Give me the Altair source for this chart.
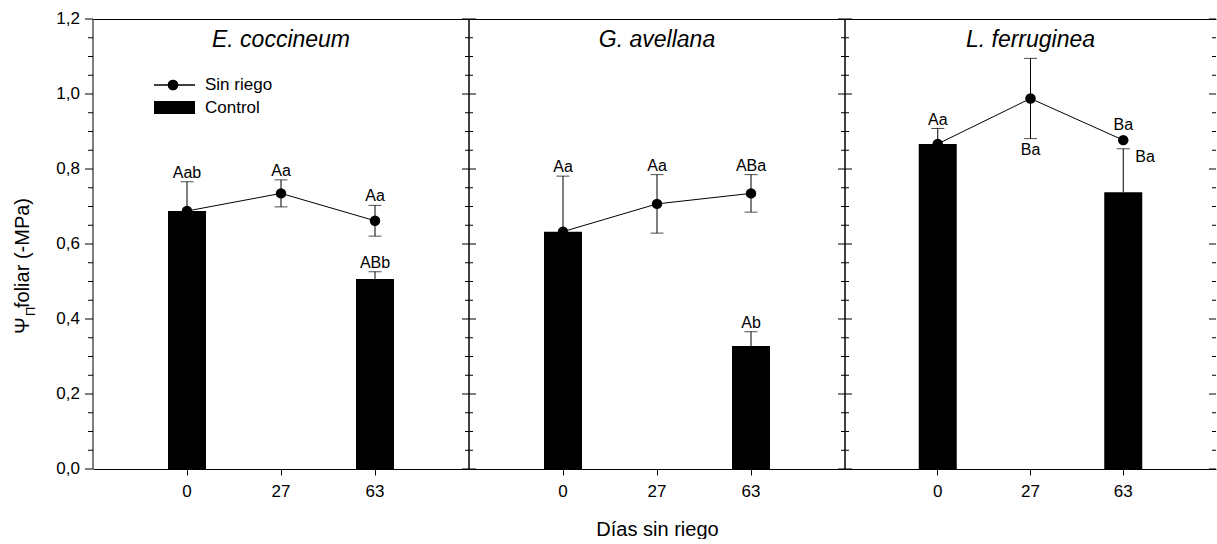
import altair as alt
import pandas as pd

# ---- data -------------------------------------------------------------
SPECIES = ["E. coccineum", "G. avellana", "L. ferruginea"]
DAYS = ["0", "27", "63"]
SERIES = ["Sin riego", "Control"]

# leaf osmotic potential (-MPa), one row per species, one entry per day
SIN_RIEGO_MEAN = [
    [0.688, 0.735, 0.662],
    [0.633, 0.707, 0.735],
    [0.867, 0.988, 0.877],
]
SIN_RIEGO_SE = [
    [None, 0.036, 0.041],
    [None, 0.078, 0.050],
    [None, 0.107, None],
]
CONTROL_MEAN = [
    [0.688, None, 0.507],
    [0.633, None, 0.328],
    [0.867, None, 0.738],
]
CONTROL_SE = [
    [0.078, None, 0.019],
    [0.148, None, 0.038],
    [0.041, None, 0.116],
]
SIN_RIEGO_LETTERS = [
    [None, "Aa", "Aa"],
    [None, "Aa", "ABa"],
    [None, "Ba", "Ba"],
]
CONTROL_LETTERS = [
    ["Aab", None, "ABb"],
    ["Aa", None, "Ab"],
    ["Aa", None, "Ba"],
]

X_TITLE = "Días sin riego"
Y_TITLE = ["Ψ", "Π", "foliar (-MPa)"]

# y tick marks: labelled every 0.2, small ticks every 0.05
Y_MAJOR = [0.0, 0.2, 0.4, 0.6, 0.8, 1.0, 1.2]
Y_LABELS = ["0,0", "0,2", "0,4", "0,6", "0,8", "1,0", "1,2"]
Y_MINOR = [0.05, 0.1, 0.15, 0.25, 0.3, 0.35, 0.45, 0.5, 0.55, 0.65, 0.7, 0.75,
           0.85, 0.9, 0.95, 1.05, 1.1, 1.15]

# letters that do not sit above their error bar
LETTER_SIDE = {(2, "27", "sin"): "abajo", (2, "63", "ctl"): "derecha"}

# ---- layout -----------------------------------------------------------
FONT = "Liberation Sans"
WIDTHS = [376, 376, 371]
HEIGHT = 450


def tables(i):
    bars, err, caps, sr, lab = [], [], [], [], []
    for j, d in enumerate(DAYS):
        cm, cs = CONTROL_MEAN[i][j], CONTROL_SE[i][j]
        sm, ss = SIN_RIEGO_MEAN[i][j], SIN_RIEGO_SE[i][j]
        if cm is not None:
            bars.append({"dia": d, "v": cm})
            if cs is not None:
                err.append({"dia": d, "lo": cm, "hi": cm + cs})
                caps.append({"dia": d, "v": cm + cs})
        if sm is not None:
            sr.append({"dia": d, "v": sm})
            if ss is not None:
                err.append({"dia": d, "lo": sm - ss, "hi": sm + ss})
                caps.append({"dia": d, "v": sm - ss})
                caps.append({"dia": d, "v": sm + ss})
        if CONTROL_LETTERS[i][j]:
            lab.append({"dia": d, "letra": CONTROL_LETTERS[i][j],
                        "lado": LETTER_SIDE.get((i, d, "ctl"), "arriba"),
                        "v": cm + cs})
        if SIN_RIEGO_LETTERS[i][j]:
            side = LETTER_SIDE.get((i, d, "sin"), "arriba" if ss is not None else "punto")
            v = sm if ss is None else (sm - ss if side == "abajo" else sm + ss)
            lab.append({"dia": d, "letra": SIN_RIEGO_LETTERS[i][j], "lado": side, "v": v})
    cols = ["dia", "letra", "lado", "v"]
    return (pd.DataFrame(bars), pd.DataFrame(err), pd.DataFrame(caps),
            pd.DataFrame(sr), pd.DataFrame(lab, columns=cols))


def panel(i):
    w = WIDTHS[i]
    bars, err, caps, sr, lab = tables(i)
    xscale = alt.Scale(domain=DAYS, paddingInner=0, paddingOuter=0.5)
    yscale = alt.Scale(domain=[0, 1.2], nice=False)

    xb = dict(orient="bottom", tickSize=6, labelFontSize=17, labelPadding=8,
              labelAngle=0, domain=True, grid=False)
    if i == 1:
        xb.update(title=X_TITLE, titleFontSize=20, titleFontWeight="normal", titlePadding=20)
    else:
        xb.update(title=None)
    x_bottom = alt.Axis(**xb)
    x_top = alt.Axis(orient="top", ticks=False, labels=False, domain=True, title=None, grid=False)

    def X(axis):
        return alt.X("dia:N", sort=DAYS, scale=xscale, axis=axis)

    def Y(field):
        return alt.Y(field, type="quantitative", scale=yscale, axis=None)

    layers = [
        alt.Chart(bars).mark_bar(size=38, color="black").encode(x=X(x_bottom), y=Y("v")),
        alt.Chart(err).mark_rule(color="black", strokeWidth=1).encode(
            x=X(x_top), y=Y("lo"), y2="hi"),
        alt.Chart(caps).mark_tick(size=13, thickness=1, color="black").encode(
            x=X(None), y=Y("v")),
        alt.Chart(sr).mark_line(color="black", strokeWidth=1).encode(x=X(None), y=Y("v")),
        alt.Chart(sr).mark_point(filled=True, size=110, color="black", opacity=1).encode(
            x=X(None), y=Y("v")),
    ]

    # side borders of the frame (the last one falls on the page edge)
    edges = [0, w] if i < 2 else [0]
    for xe in edges:
        layers.append(
            alt.Chart(pd.DataFrame({"e": [xe]})).mark_rule(color="black", strokeWidth=1).encode(
                x=alt.value(xe), y=alt.value(0), y2=alt.value(HEIGHT)))

    # frame ticks: outward on the first left edge, inward everywhere else
    major = pd.DataFrame({"v": Y_MAJOR, "t": Y_LABELS})
    minor = pd.DataFrame({"v": Y_MINOR})
    if i == 0:
        spans = [(major, -8, 0), (minor, -5, 0)]
    else:
        spans = [(major, 0, 7), (minor, 0, 4)]
    spans += [(major, w - 7, w), (minor, w - 4, w)]
    for df, a, b in spans:
        layers.append(
            alt.Chart(df).mark_rule(color="black", strokeWidth=1).encode(
                y=Y("v"), x=alt.value(a), x2=alt.value(b)))
    if i == 0:
        layers.append(
            alt.Chart(major).mark_text(
                font=FONT, fontSize=17, color="black", align="right", baseline="middle"
            ).encode(y=Y("v"), x=alt.value(-13), text="t:N"))

    text_style = dict(font=FONT, fontSize=16, color="black")
    placements = {
        "arriba": dict(baseline="alphabetic", align="center", dy=-4),
        "punto": dict(baseline="alphabetic", align="center", dy=-10),
        "abajo": dict(baseline="top", align="center", dy=3),
        "derecha": dict(baseline="middle", align="left", dx=12, dy=8),
    }
    for side, style in placements.items():
        sub = lab[lab["lado"] == side]
        if len(sub):
            layers.append(
                alt.Chart(sub).mark_text(**text_style, **style).encode(
                    x=X(None), y=Y("v"), text="letra:N"))

    # species name inside the frame
    layers.append(
        alt.Chart(pd.DataFrame({"t": [SPECIES[i]]})).mark_text(
            font=FONT, fontSize=23, fontStyle="italic", color="black",
            align="center", baseline="alphabetic",
        ).encode(x=alt.value(w / 2), y=alt.value(28), text="t:N"))

    if i == 0:
        leg = pd.DataFrame({"serie": SERIES})
        layers += [
            alt.Chart(leg).mark_rule(color="black", strokeWidth=1).encode(
                x=alt.value(61), x2=alt.value(102), y=alt.value(66)),
            alt.Chart(leg).mark_point(filled=True, size=110, color="black", opacity=1).encode(
                x=alt.value(80), y=alt.value(66)),
            alt.Chart(leg).mark_rect(color="black").encode(
                x=alt.value(61), x2=alt.value(102), y=alt.value(82), y2=alt.value(95)),
            alt.Chart(pd.DataFrame({"s": [SERIES[0]]})).mark_text(
                font=FONT, fontSize=17, color="black", align="left", baseline="middle"
            ).encode(x=alt.value(112), y=alt.value(66), text="s:N"),
            alt.Chart(pd.DataFrame({"s": [SERIES[1]]})).mark_text(
                font=FONT, fontSize=17, color="black", align="left", baseline="middle"
            ).encode(x=alt.value(112), y=alt.value(89), text="s:N"),
        ]
        # y-axis title: Psi with a subscript Pi
        title_parts = [(Y_TITLE[0], 20, -70, 315), (Y_TITLE[1], 13, -62, 297),
                       (Y_TITLE[2], 20, -70, 289)]
        for txt, size, xv, yv in title_parts:
            layers.append(
                alt.Chart(pd.DataFrame({"t": [txt]})).mark_text(
                    font=FONT, fontSize=size, color="black", angle=270,
                    align="left", baseline="middle",
                ).encode(x=alt.value(xv), y=alt.value(yv), text="t:N"))

    return (
        alt.layer(*layers)
        .resolve_axis(x="independent")
        .properties(width=w, height=HEIGHT)
    )


chart = (
    alt.hconcat(*[panel(i) for i in range(3)], spacing=0, bounds="flush")
    .properties(padding={"left": 13, "top": 10, "right": 0, "bottom": 0})
    .configure(font=FONT)
    .configure_view(stroke=None)
    .configure_axis(
        grid=False, domainColor="black", tickColor="black", labelColor="black",
        titleColor="black", labelFont=FONT, titleFont=FONT, domainWidth=1, tickWidth=1,
    )
)

chart.save("out.html", embed_options={"renderer": "svg", "actions": False})
